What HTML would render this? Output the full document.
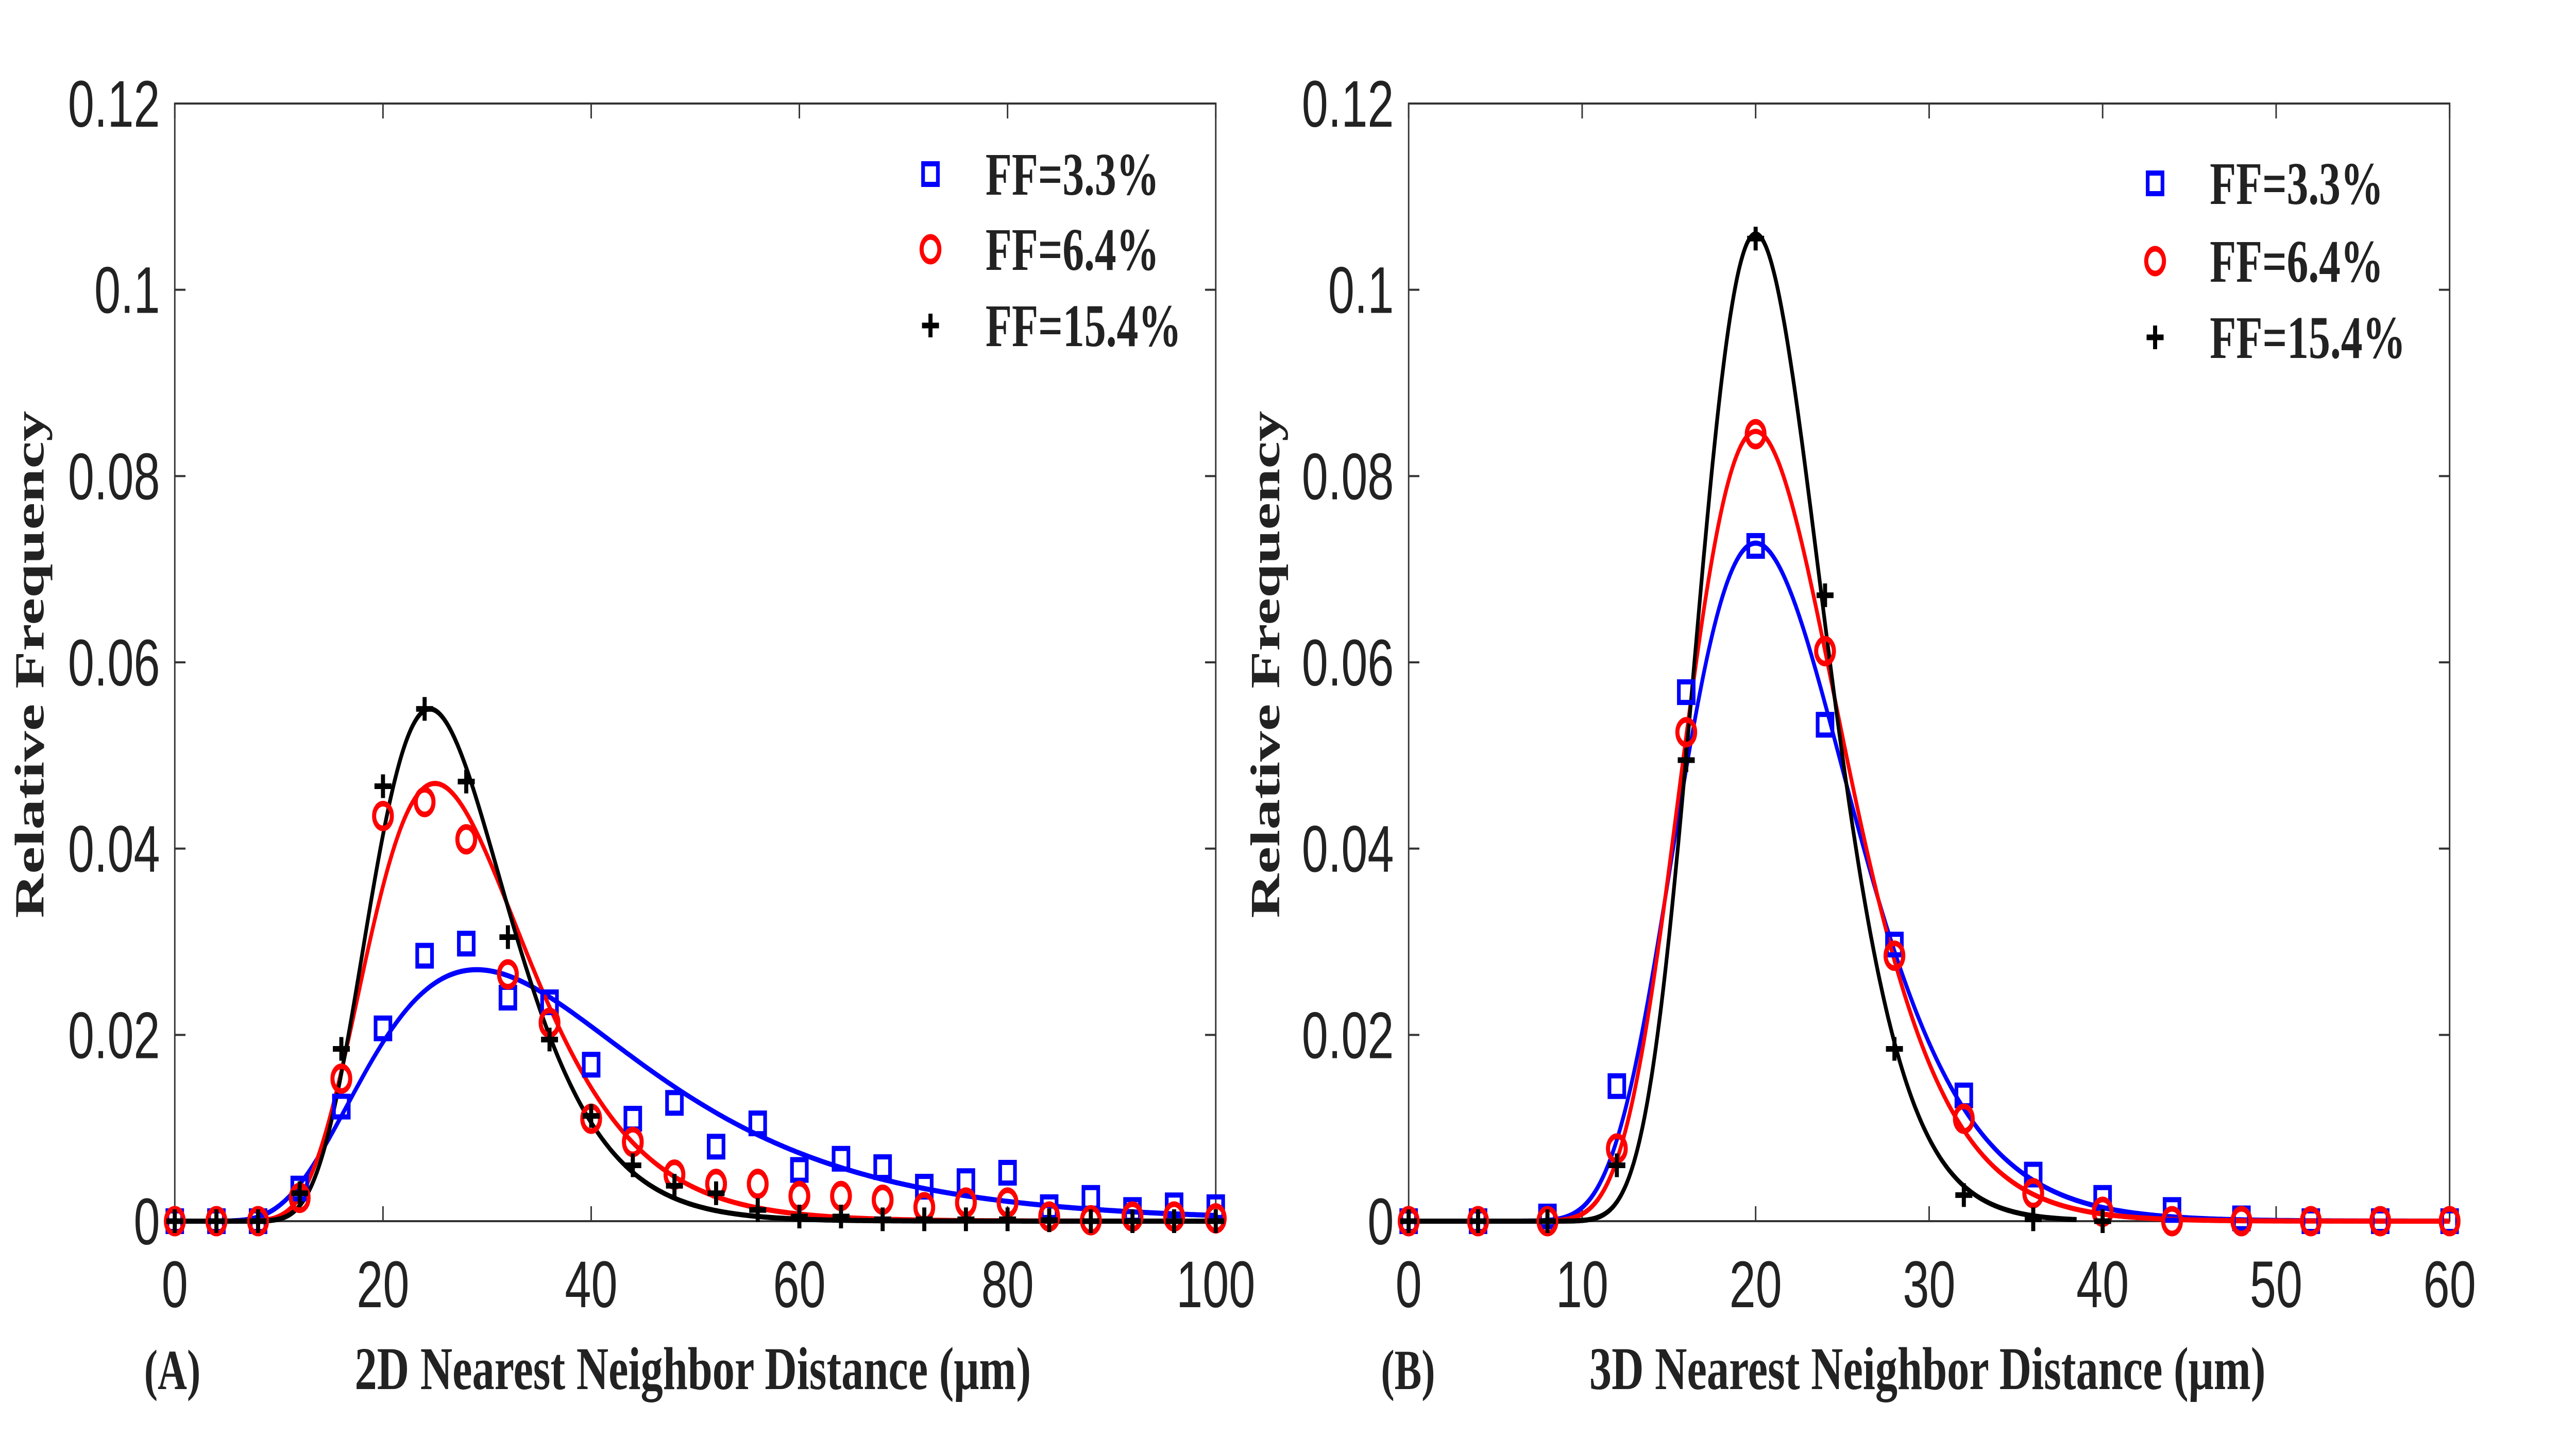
<!DOCTYPE html>
<html><head><meta charset="utf-8">
<style>
html,body{margin:0;padding:0;background:#fff;width:100%;height:100%;overflow:hidden;}
svg{display:block;width:100vw;height:100vh;}
.tick{font-family:"Liberation Sans",Arial,sans-serif;font-size:128px;fill:#222;}
.lab{font-family:"Liberation Serif","Times New Roman",serif;font-weight:bold;fill:#222;}
</style></head>
<body>
<svg id="fig" viewBox="0 0 6971 2792" preserveAspectRatio="none" xmlns="http://www.w3.org/2000/svg">
</svg>
<script>
// Panel A data (x step 4)
const xA = [0,4,8,12,16,20,24,28,32,36,40,44,48,52,56,60,64,68,72,76,80,84,88,92,96,100];
const blueA = [0,0,0,0.0035,0.0123,0.0207,0.0285,0.0298,0.024,0.0235,0.0168,0.011,0.0127,0.008,0.0105,0.0055,0.0067,0.0058,0.0037,0.0043,0.0052,0.0015,0.0025,0.0012,0.0017,0.0015];
const redA = [0,0,0,0.0025,0.0153,0.0435,0.045,0.041,0.0265,0.0213,0.011,0.0085,0.005,0.004,0.004,0.0027,0.0027,0.0023,0.0015,0.002,0.002,0.0005,0.0001,0.0005,0.0005,0.0003];
const blackA = [0,0,0,0.003,0.0185,0.0467,0.055,0.0472,0.0305,0.0195,0.0113,0.006,0.0038,0.003,0.0012,0.0005,0.0005,0.0002,0.0002,0.0002,0.0002,0.0001,0,0,0,0];
// Fit parameters A: [peak, mode, sigma]
const fitBlueA = [0.027, 29, 0.45];
const fitRedA = [0.047, 25, 0.305];
const fitBlackA = [0.055, 24.5, 0.27];
// Panel B data
const xB = [0,4,8,12,16,20,24,28,32,36,40,44,48,52,56,60];
const blueB = [0,0,0.0005,0.0145,0.0568,0.0725,0.0533,0.0297,0.0135,0.005,0.0025,0.0012,0.0003,0,0,0];
const redB = [0,0,0,0.0078,0.0525,0.0845,0.0612,0.0285,0.011,0.003,0.001,0,0,0,0,0];
const blackB = [0,0,0,0.006,0.0495,0.1055,0.0672,0.0185,0.0028,0.0002,0];
const fitBlueB = [0.0728, 20, 0.248];
const fitRedB = [0.0848, 20, 0.226];
const fitBlackB = [0.106, 20, 0.182];
const yTicks = [0,0.02,0.04,0.06,0.08,0.1,0.12];
const yTickLabels = ["0","0.02","0.04","0.06","0.08","0.1","0.12"];
const xTicksA = [0,20,40,60,80,100];
const xTicksB = [0,10,20,30,40,50,60];
const legendLabels = ["FF=3.3%","FF=6.4%","FF=15.4%"];

const NS="http://www.w3.org/2000/svg";
const svg=document.getElementById('fig');
function mk(tag,attrs,parent){const e=document.createElementNS(NS,tag);for(const k in attrs)e.setAttribute(k,attrs[k]);(parent||svg).appendChild(e);return e;}

function panel(cfg){
  const g=mk('g',{});
  
  
  const L=cfg.L,R=cfg.R,T=201,B=2371;
  const sx=v=>L+(v-cfg.xmin)/(cfg.xmax-cfg.xmin)*(R-L);
  const sy=v=>B-(v/0.12)*(B-T);
  const box=mk('rect',{x:L,y:T,width:R-L,height:B-T,fill:'none',stroke:'#333','stroke-width':4},g);
  
  
  yTicks.forEach((v,i)=>{
    const y=sy(v);
    mk('line',{x1:L,x2:L+29,y1:y,y2:y,stroke:'#333','stroke-width':4},g);
    mk('line',{x1:R,x2:R-29,y1:y,y2:y,stroke:'#333','stroke-width':4},g);
    const t=mk('text',{x:L-40,y:y+45,'text-anchor':'end',class:'tick'},g);
    t.textContent=yTickLabels[i];
    
    
  });
  cfg.xt.forEach(v=>{
    const x=sx(v);
    mk('line',{x1:x,x2:x,y1:B,y2:B-29,stroke:'#333','stroke-width':4},g);
    mk('line',{x1:x,x2:x,y1:T,y2:T+29,stroke:'#333','stroke-width':4},g);
    const t=mk('text',{x:x,y:2538,'text-anchor':'middle',class:'tick'},g);
    t.textContent=String(v);
    
    
  });
  const cols=['#0000ff','#ff0000','#000000'];
  cfg.fits.forEach((f,k)=>{
    let d='';
    const xEnd=cfg.curveEnd[k];
    for(let i=0;i<=600;i++){
      const x=cfg.xmin+(xEnd-cfg.xmin)*i/600;
      const y=x<=0?0:f[0]*Math.exp(-Math.pow(Math.log(x/f[1]),2)/(2*f[2]*f[2]));
      d+=(i?'L':'M')+sx(x).toFixed(1)+','+sy(y).toFixed(1);
    }
    const p=mk('path',{d:d,fill:'none',stroke:cols[k],'stroke-width':10,'stroke-linejoin':'round'},g);
    
    
  });
  function marker(type,x,y,parent){
    if(type===0){return mk('rect',{x:x-20,y:y-20,width:40,height:40,fill:'none',stroke:'#0000ff','stroke-width':10},parent);}
    if(type===1){return mk('circle',{cx:x,cy:y,r:24,fill:'none',stroke:'#ff0000','stroke-width':11},parent);}
    return mk('path',{d:`M${x-23},${y}H${x+23}M${x},${y-23}V${y+23}`,stroke:'#000','stroke-width':11,fill:'none'},parent);
  }
  cfg.series.forEach((s,k)=>{
    s.forEach((v,i)=>{
      const m=marker(k,sx(cfg.xs[i]),sy(v),g);
      
      
    });
  });
  legendLabels.forEach((lbl,k)=>{
    const y=cfg.legY[k];
    const m=marker(k,cfg.legMX,y,g);
    
    
    const t=mk('text',{x:cfg.legTX,y:y+40,class:'lab','font-size':118,textLength:k===2?530:470,lengthAdjust:'spacingAndGlyphs'},g);
    t.textContent=lbl;
    
    
  });
  const yl=mk('text',{x:0,y:0,class:'lab','font-size':112,'text-anchor':'middle',textLength:985,lengthAdjust:'spacingAndGlyphs',transform:`translate(${cfg.ylx},1290) rotate(-90)`},g);
  yl.textContent='Relative Frequency';
  
  
  const xl=mk('text',{x:cfg.xlx,y:2697,class:'lab','font-size':118,'text-anchor':'middle',textLength:cfg.xlw,lengthAdjust:'spacingAndGlyphs'},g);
  xl.textContent=cfg.xlabel;
  
  
  const pl=mk('text',{x:cfg.plx,y:2697,class:'lab','font-size':110},g);
  pl.textContent=cfg.plabel;
  
  
}
panel({name:'panel-a',L:473,R:3290,xmin:0,xmax:100,xt:xTicksA,xs:xA,series:[blueA,redA,blackA],fits:[fitBlueA,fitRedA,fitBlackA],curveEnd:[100,100,100],
  legY:[338,484,632],legMX:2518,legTX:2667,ylx:118,xlx:1875,xlw:1830,xlabel:'2D Nearest Neighbor Distance (μm)',plx:390,plabel:'(A)'});
panel({name:'panel-b',L:3812,R:6629,xmin:0,xmax:60,xt:xTicksB,xs:xB,series:[blueB,redB,blackB],fits:[fitBlueB,fitRedB,fitBlackB],curveEnd:[60,60,38.5],
  legY:[356,507,655],legMX:5832,legTX:5980,ylx:3462,xlx:5216,xlw:1830,xlabel:'3D Nearest Neighbor Distance (μm)',plx:3737,plabel:'(B)'});
</script>
</body></html>
